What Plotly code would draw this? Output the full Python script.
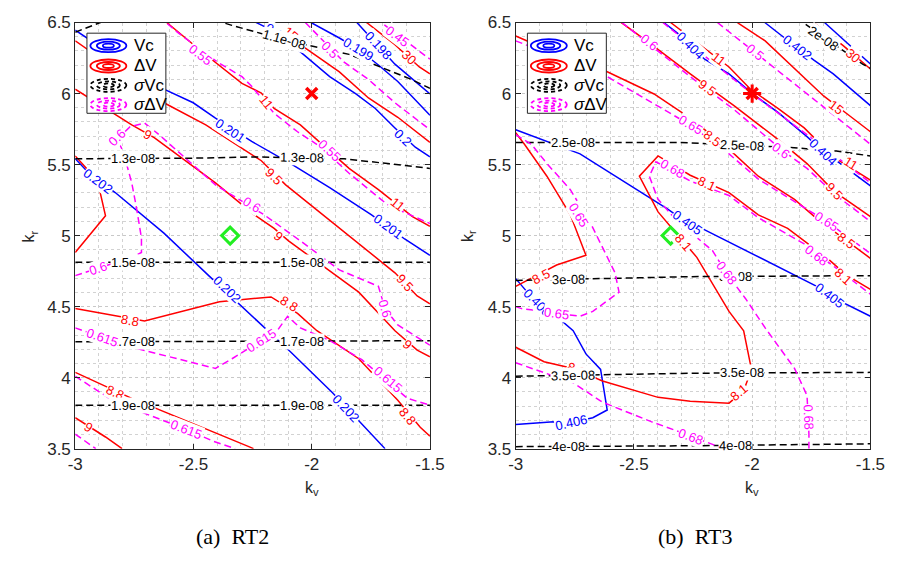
import math
import plotly.graph_objects as go

# ---------------------------------------------------------------- data
KV_RANGE = [-3.0, -1.5]
KR_RANGE = [3.5, 6.5]
X_TICKS = [-3, -2.5, -2, -1.5]
X_TICKTEXT = ["-3", "-2.5", "-2", "-1.5"]
Y_TICKS = [3.5, 4, 4.5, 5, 5.5, 6, 6.5]
Y_TICKTEXT = ["3.5", "4", "4.5", "5", "5.5", "6", "6.5"]

OPT_POINT = (-2.345, 5.0)     # green diamond
REF_POINT = (-2.0, 6.0)       # red cross

# contour polylines: (level, k_v values, k_r values)
RT2_VC = [
    ("0.198", [-1.809, -1.718, -1.648, -1.5], [6.5, 6.337, 6.207, 5.997]),
    ("0.199", [-2.003, -1.883, -1.801, -1.718, -1.636, -1.5], [6.5, 6.391, 6.31, 6.201, 6.085, 5.847]),
    ("0.2", [-2.26, -2.225, -2.184, -2.069, -1.924, -1.813, -1.731, -1.648, -1.562, -1.5],
     [6.52, 6.493, 6.459, 6.323, 6.119, 5.997, 5.895, 5.758, 5.622, 5.554]),
    ("0.201", [-3, -2.625, -2.501, -2.407, -2.254, -2.089, -1.924, -1.747, -1.607, -1.5],
     [6.446, 6.031, 5.935, 5.827, 5.663, 5.507, 5.337, 5.146, 4.976, 4.861]),
    ("0.202", [-3, -2.942, -2.831, -2.625, -2.431, -2.295, -2.089, -1.912, -1.772, -1.69],
     [5.541, 5.439, 5.303, 5.017, 4.711, 4.5, 4.18, 3.894, 3.65, 3.5]),
]
RT2_VC_LABELS = [("0.2", -2.159, 6.439), ("0.2", -1.615, 5.69), ("0.199", -1.801, 6.31),
                 ("0.198", -1.718, 6.337), ("0.201", -2.345, 5.74), ("0.201", -1.677, 5.065),
                 ("0.202", -2.901, 5.384), ("0.202", -2.357, 4.622), ("0.202", -1.854, 3.786)]

RT2_DV = [
    ("30", [-1.79, -1.768, -1.648, -1.545, -1.5], [6.52, 6.5, 6.344, 6.187, 6.139]),
    ("15", [-2.18, -2.163, -2.048, -1.883, -1.76, -1.636, -1.5], [6.52, 6.5, 6.344, 6.153, 5.969, 5.833, 5.656]),
    ("11", [-2.613, -2.46, -2.295, -2.213, -2.159, -2.048, -1.924, -1.842, -1.718, -1.574, -1.5],
     [6.5, 6.289, 6.071, 6.003, 5.895, 5.779, 5.595, 5.473, 5.323, 5.133, 5.065]),
    ("9.5", [-3, -2.625, -2.448, -2.213, -2.11, -1.953, -1.801, -1.648, -1.554, -1.5],
     [6.371, 5.935, 5.779, 5.527, 5.357, 5.146, 4.942, 4.738, 4.575, 4.52]),
    ("9", [-3, -2.761, -2.666, -2.407, -2.242, -2.159, -2.098, -1.801, -1.648, -1.554, -1.5],
     [6.031, 5.779, 5.69, 5.371, 5.146, 5.051, 4.963, 4.602, 4.33, 4.194, 4.146]),
    ("9", [-3, -2.934, -2.901, -2.872, -3], [5.561, 5.439, 5.35, 5.139, 4.881]),
    ("8.8", [-3, -2.707, -2.39, -2.172, -2.06, -1.978, -1.801, -1.636, -1.541, -1.5],
     [4.486, 4.398, 4.534, 4.568, 4.452, 4.33, 4.133, 3.84, 3.65, 3.588]),
    ("8.8", [-3, -2.761, -2.266, -2.246], [4.037, 3.854, 3.514, 3.5]),
    ("9", [-3, -2.872, -2.802], [3.718, 3.582, 3.5]),
]
RT2_DV_LABELS = [("15", -2.089, 6.425), ("30", -1.587, 6.255), ("11", -2.192, 5.935),
                 ("11", -1.636, 5.221), ("9.5", -2.159, 5.418), ("9.5", -1.607, 4.67),
                 ("9", -2.695, 5.711), ("9", -2.139, 4.997), ("9", -1.595, 4.235),
                 ("8.8", -2.769, 4.405), ("8.8", -2.098, 4.52), ("8.8", -1.595, 3.724),
                 ("8.8", -2.831, 3.895), ("9", -2.942, 3.65)]

RT2_SVC = [
    ("1.1e-08", [-3, -2.83, -2.46, -2.337, -2.118, -1.842, -1.587, -1.5],
     [6.432, 6.541, 6.541, 6.48, 6.378, 6.276, 6.105, 6.037]),
    ("1.3e-08", [-3, -2.5, -2.242, -1.863, -1.566, -1.5], [5.541, 5.545, 5.554, 5.541, 5.486, 5.473]),
    ("1.5e-08", [-3, -2.25, -1.5], [4.813, 4.813, 4.813]),
    ("1.7e-08", [-3, -2.25, -1.5], [4.252, 4.255, 4.26]),
    ("1.9e-08", [-3, -2.25, -1.5], [3.806, 3.806, 3.806]),
]
RT2_SVC_LABELS = [("1.1e-08", -2.118, 6.378), ("1.3e-08", -2.757, 5.544), ("1.3e-08", -2.04, 5.553),
                  ("1.5e-08", -2.757, 4.813), ("1.5e-08", -2.04, 4.813), ("1.7e-08", -2.757, 4.253),
                  ("1.7e-08", -2.04, 4.256), ("1.9e-08", -2.757, 3.806), ("1.9e-08", -2.04, 3.806)]

RT2_SDV = [
    ("0.45", [-1.73, -1.706, -1.574, -1.5], [6.53, 6.5, 6.337, 6.242]),
    ("0.5", [-2.027, -1.863, -1.76, -1.648, -1.5], [6.5, 6.221, 6.099, 5.935, 5.745]),
    ("0.55", [-2.646, -2.563, -2.398, -2.295, -2.254, -2.159, -2.06, -1.966, -1.842, -1.677, -1.5],
     [6.541, 6.425, 6.221, 6.119, 6.051, 5.861, 5.731, 5.629, 5.439, 5.214, 5.085]),
    ("0.6", [-3, -2.901, -2.761, -2.72, -2.72, -2.74, -2.761, -2.798, -2.823, -2.769, -2.707, -2.646,
             -2.407, -2.201, -2.048, -1.883, -1.718, -1.69, -1.636, -1.5],
     [4.718, 4.772, 4.847, 4.881, 4.983, 5.187, 5.371, 5.595, 5.677, 5.765, 5.793, 5.711,
      5.357, 5.146, 4.963, 4.758, 4.643, 4.486, 4.371, 4.228]),
    ("0.615", [-3, -2.761, -2.407, -2.337, -2.213, -2.143, -2.102, -2.048, -1.924, -1.788, -1.595, -1.5],
     [4.35, 4.214, 4.065, 4.133, 4.262, 4.337, 4.432, 4.35, 4.262, 4.126, 3.854, 3.806]),
    ("0.615", [-3, -2.831, -2.53, -2.419, -2.324], [4.01, 3.827, 3.636, 3.554, 3.5]),
    ("0.62", [-3, -2.913], [3.602, 3.5]),
]
RT2_SDV_LABELS = [("0.45", -1.636, 6.405), ("0.5", -1.924, 6.31), ("0.55", -2.472, 6.276),
                  ("0.55", -1.924, 5.6), ("0.6", -2.905, 4.77), ("0.6", -2.823, 5.69),
                  ("0.6", -2.254, 5.221), ("0.6", -1.69, 4.486), ("0.615", -2.885, 4.282),
                  ("0.615", -2.213, 4.262), ("0.615", -1.677, 3.99), ("0.615", -2.53, 3.636)]

RT3_VC = [
    ("0.4", [-1.694, -1.5], [6.5, 6.208]),
    ("0.402", [-1.96, -1.941, -1.879, -1.809, -1.739, -1.657, -1.5], [6.52, 6.493, 6.412, 6.323, 6.235, 6.139, 5.915]),
    ("0.404", [-2.374, -2.316, -2.262, -2.201, -2.098, -1.986, -1.891, -1.768, -1.698, -1.644, -1.5],
     [6.5, 6.425, 6.337, 6.242, 6.139, 5.983, 5.867, 5.697, 5.588, 5.527, 5.35]),
    ("0.405", [-3, -2.728, -2.357, -2.275, -2.213, -1.727, -1.673, -1.591, -1.5],
     [5.745, 5.575, 5.187, 5.09, 5.051, 4.643, 4.575, 4.507, 4.432]),
    ("0.406", [-3, -2.951, -2.909, -2.852, -2.757, -2.703, -2.641, -2.625, -2.613, -2.674, -2.765, -2.839, -3],
     [4.697, 4.602, 4.53, 4.466, 4.33, 4.167, 4.058, 3.894, 3.772, 3.718, 3.684, 3.69, 3.67]),
]
RT3_VC_LABELS = [("0.402", -1.809, 6.323), ("0.404", -2.262, 6.337), ("0.404", -1.698, 5.588),
                 ("0.405", -2.275, 5.09), ("0.405", -1.673, 4.575), ("0.406", -2.909, 4.53),
                 ("0.406", -2.765, 3.684)]

RT3_DV = [
    ("30", [-1.76, -1.735, -1.615, -1.533, -1.5], [6.52, 6.493, 6.337, 6.221, 6.173]),
    ("15", [-2.07, -2.056, -1.945, -1.838, -1.698, -1.591, -1.5], [6.51, 6.493, 6.371, 6.201, 5.983, 5.847, 5.731]),
    ("11", [-2.345, -2.221, -2.098, -2.007, -1.891, -1.78, -1.657, -1.5],
     [6.5, 6.344, 6.187, 6.031, 5.895, 5.758, 5.554, 5.391]),
    ("9.5", [-2.559, -2.435, -2.262, -2.077, -1.891, -1.768, -1.652, -1.5],
     [6.507, 6.357, 6.139, 5.915, 5.677, 5.507, 5.31, 5.133]),
    ("8.5", [-3, -2.839, -2.613, -2.415, -2.262, -2.098, -1.974, -1.821, -1.727, -1.603, -1.5],
     [6.405, 6.289, 6.153, 5.997, 5.827, 5.609, 5.418, 5.255, 5.119, 4.963, 4.84]),
    ("8.5", [-3, -2.963, -2.868, -2.769, -2.703, -2.827, -3], [5.724, 5.643, 5.418, 5.146, 4.861, 4.793, 4.643]),
    ("8.1", [-3, -2.88, -2.757, -2.633, -2.398, -2.262, -2.098, -2.036, -2.003, -2.015, -2.036, -2.098,
             -2.234, -2.304, -2.398, -2.477, -2.398, -2.262, -2.098, -1.974, -1.85, -1.78, -1.673, -1.603, -1.5],
     [4.214, 4.112, 4.065, 3.976, 3.861, 3.833, 3.82, 3.908, 4.058, 4.167, 4.33, 4.466,
      4.847, 4.983, 5.167, 5.418, 5.561, 5.425, 5.303, 5.146, 5.051, 4.963, 4.827, 4.724, 4.622]),
]
RT3_DV_LABELS = [("30", -1.574, 6.269), ("15", -1.644, 5.901), ("11", -2.139, 6.242),
                 ("11", -1.582, 5.507), ("9.5", -2.192, 6.04), ("9.5", -1.652, 5.31),
                 ("8.5", -2.168, 5.68), ("8.5", -1.603, 4.963), ("8.5", -2.893, 4.711),
                 ("8.1", -2.745, 4.058), ("8.1", -2.056, 3.895), ("8.1", -2.291, 4.949),
                 ("8.1", -2.192, 5.37), ("8.1", -1.615, 4.711)]

RT3_SVC = [
    ("2e-08", [-1.85, -1.78, -1.632, -1.533, -1.5], [6.575, 6.493, 6.323, 6.207, 6.18]),
    ("2.5e-08", [-3, -2.304, -1.85, -1.644, -1.5], [5.656, 5.656, 5.622, 5.595, 5.561]),
    ("3e-08", [-3, -2.262, -1.5], [4.684, 4.711, 4.718]),
    ("3.5e-08", [-3, -2.262, -1.5], [4.01, 4.031, 4.037]),
    ("4e-08", [-3, -2.262, -1.5], [3.514, 3.52, 3.534]),
]
RT3_SVC_LABELS = [("2e-08", -1.698, 6.391), ("2.5e-08", -2.757, 5.656), ("2.5e-08", -2.044, 5.635),
                  ("3e-08", -2.777, 4.69), ("3e-08", -2.069, 4.713), ("3.5e-08", -2.757, 4.015),
                  ("3.5e-08", -2.044, 4.033), ("4e-08", -2.777, 3.516), ("4e-08", -2.069, 3.522)]

RT3_SDV = [
    ("0.5", [-2.147, -1.912, -1.644, -1.5], [6.5, 6.187, 5.833, 5.643]),
    ("0.55", [-2.378, -2.262, -2.015, -1.714, -1.5], [6.5, 6.344, 6.017, 5.643, 5.371]),
    ("0.6", [-2.551, -2.427, -2.262, -2.077, -1.879, -1.768, -1.644, -1.5],
     [6.5, 6.337, 6.119, 5.888, 5.609, 5.473, 5.282, 5.099]),
    ("0.65", [-3, -2.613, -2.262, -2.098, -1.974, -1.685, -1.5], [6.371, 6.119, 5.779, 5.575, 5.398, 5.099, 4.874]),
    ("0.65", [-3, -2.934, -2.868, -2.769, -2.687, -2.633, -2.58, -2.563, -2.674, -2.728, -2.975, -3],
     [5.711, 5.643, 5.507, 5.323, 5.099, 4.915, 4.738, 4.602, 4.466, 4.432, 4.486, 4.5]),
    ("0.68", [-1.76, -1.76, -1.768, -1.821, -1.945, -2.027, -2.11, -2.168, -2.316, -2.398, -2.435, -2.407,
              -2.262, -2.098, -1.974, -1.78, -1.673, -1.5],
     [3.5, 3.602, 3.874, 4.065, 4.35, 4.554, 4.738, 4.895, 5.099, 5.255, 5.418, 5.52,
      5.384, 5.282, 5.126, 4.942, 4.806, 4.588]),
    ("0.68", [-3, -2.757, -2.633, -2.427, -2.304, -2.139, -2.098], [4.105, 3.963, 3.827, 3.69, 3.616, 3.514, 3.486]),
]
RT3_SDV_LABELS = [("0.5", -1.986, 6.289), ("0.6", -2.435, 6.357), ("0.6", -1.879, 5.6),
                  ("0.65", -2.262, 5.779), ("0.65", -1.685, 5.099), ("0.65", -2.736, 5.146),
                  ("0.65", -2.827, 4.452), ("0.68", -1.763, 3.724), ("0.68", -2.11, 4.738),
                  ("0.68", -2.337, 5.473), ("0.68", -1.727, 4.861), ("0.68", -2.262, 3.582)]

LEGEND_NAMES = ["Vc", "ΔV", "<i>σ</i>Vc", "<i>σ</i>ΔV"]
CAPTIONS = ["(a)  RT2", "(b)  RT3"]

# ---------------------------------------------------------------- layout geometry
W, H = 901, 563
X_DOMAINS = [[69 / W, 433 / W], [521 / W, 885 / W]]
Y_DOMAIN = [1 - 455 / H, 1 - 14 / H]
PX_PER_KV = (X_DOMAINS[0][1] - X_DOMAINS[0][0]) * W / (KV_RANGE[1] - KV_RANGE[0])
PX_PER_KR = (Y_DOMAIN[1] - Y_DOMAIN[0]) * H / (KR_RANGE[1] - KR_RANGE[0])

STYLES = {
    "vc": dict(color="#0000ff", width=1.5, dash="solid"),
    "dv": dict(color="#ff0000", width=1.5, dash="solid"),
    "svc": dict(color="#000000", width=1.5, dash="7px,4px"),
    "sdv": dict(color="#ff00ff", width=1.5, dash="7px,4px"),
}
TEXT = "#262626"
FONT = "Liberation Sans, Arial, sans-serif"


def label_angle(lines, level, x, y):
    """Rotation (deg, clockwise) of the contour segment nearest to a label."""
    px, py = x * PX_PER_KV, -y * PX_PER_KR
    best = None
    for lev, xs, ys in lines:
        if lev != level:
            continue
        for i in range(len(xs) - 1):
            ax, ay = xs[i] * PX_PER_KV, -ys[i] * PX_PER_KR
            bx, by = xs[i + 1] * PX_PER_KV, -ys[i + 1] * PX_PER_KR
            dx, dy = bx - ax, by - ay
            L2 = dx * dx + dy * dy
            t = 0 if L2 == 0 else max(0, min(1, ((px - ax) * dx + (py - ay) * dy) / L2))
            d = math.hypot(ax + t * dx - px, ay + t * dy - py)
            if best is None or d < best[0]:
                best = (d, dx, dy)
    ang = math.degrees(math.atan2(best[2], best[1]))
    if ang >= 90:
        ang -= 180
    if ang < -90:
        ang += 180
    return ang


fig = go.Figure()
annotations = []
shapes = []

panels = [
    ("x", "y", [(RT2_VC, RT2_VC_LABELS, "vc"), (RT2_DV, RT2_DV_LABELS, "dv"),
                (RT2_SVC, RT2_SVC_LABELS, "svc"), (RT2_SDV, RT2_SDV_LABELS, "sdv")], "x"),
    ("x2", "y2", [(RT3_VC, RT3_VC_LABELS, "vc"), (RT3_DV, RT3_DV_LABELS, "dv"),
                  (RT3_SVC, RT3_SVC_LABELS, "svc"), (RT3_SDV, RT3_SDV_LABELS, "sdv")], "x-plus"),
]

for xa, ya, groups, ref_symbol in panels:
    for lines, labels, key in groups:
        st = STYLES[key]
        for lev, xs, ys in lines:
            fig.add_trace(go.Scatter(
                x=xs, y=ys, mode="lines", xaxis=xa, yaxis=ya, showlegend=False,
                hoverinfo="skip", line=dict(color=st["color"], width=st["width"], dash=st["dash"])))
        for lev, lx, ly in labels:
            annotations.append(dict(
                x=lx, y=ly, xref=xa, yref=ya, text=lev, showarrow=False,
                xanchor="center", yanchor="middle",
                textangle=label_angle(lines, lev, lx, ly),
                font=dict(family=FONT, size=13, color=st["color"]),
                bgcolor="white", borderpad=0))
    # reference and optimum points
    fig.add_trace(go.Scatter(
        x=[REF_POINT[0]], y=[REF_POINT[1]], mode="markers", xaxis=xa, yaxis=ya, showlegend=False,
        hoverinfo="skip", marker=dict(symbol="x-thin-open", size=11, color="#ff0000",
                                      line=dict(width=3.5, color="#ff0000"))))
    if ref_symbol == "x-plus":
        fig.add_trace(go.Scatter(
            x=[REF_POINT[0]], y=[REF_POINT[1]], mode="markers", xaxis=xa, yaxis=ya, showlegend=False,
            hoverinfo="skip", marker=dict(symbol="cross-thin-open", size=13, color="#ff0000",
                                          line=dict(width=3, color="#ff0000"))))
    fig.add_trace(go.Scatter(
        x=[OPT_POINT[0]], y=[OPT_POINT[1]], mode="markers", xaxis=xa, yaxis=ya, showlegend=False,
        hoverinfo="skip", marker=dict(symbol="diamond-open", size=13, color="#22ee22",
                                      line=dict(width=3, color="#22ee22"))))

    # legend box drawn inside each axes
    xr, yr = f"{xa} domain", f"{ya} domain"
    shapes.append(dict(type="rect", xref=xr, yref=yr, x0=0.033, x1=0.2555, y0=0.787, y1=0.975,
                       fillcolor="white", line=dict(color=TEXT, width=1), layer="above"))
    rows = [0.9456, 0.898, 0.8526, 0.8073]
    for (key, name, yc) in zip(["vc", "dv", "svc", "sdv"], LEGEND_NAMES, rows):
        st = STYLES[key]
        dash = "solid" if st["dash"] == "solid" else "4px,3px"
        for w, h in [(36, 13), (23, 8), (11, 4)]:
            shapes.append(dict(type="circle", xref=xr, yref=yr, xsizemode="pixel", ysizemode="pixel",
                               xanchor=0.0934, yanchor=yc, x0=-w / 2, x1=w / 2, y0=-h / 2, y1=h / 2,
                               line=dict(color=st["color"], width=1.8, dash=dash), layer="above"))
        annotations.append(dict(x=0.159, y=yc, xref=xr, yref=yr, text=name, showarrow=False,
                                xanchor="left", yanchor="middle",
                                font=dict(family=FONT, size=17, color="#000000")))

# axis titles and captions
for cx, cap in zip([230, 705], CAPTIONS):
    annotations.append(dict(x=cx / W, y=1 - 546 / H, xref="paper", yref="paper", text=cap,
                            xanchor="center", yanchor="middle", showarrow=False,
                            font=dict(family="Liberation Serif, serif", size=22, color="#000000")))
for kvx, krx in [(312, 22), (764, 472)]:
    annotations.append(dict(x=kvx / W, y=1 - 496 / H, xref="paper", yref="paper", text="k<sub>v</sub>",
                            xanchor="center", yanchor="middle",
                            showarrow=False, font=dict(family=FONT, size=16, color=TEXT)))
    annotations.append(dict(x=krx / W, y=1 - 235 / H, xref="paper", yref="paper", text="k<sub>r</sub>",
                            xanchor="center", yanchor="middle",
                            textangle=-90, showarrow=False, font=dict(family=FONT, size=16, color=TEXT)))

axis_common = dict(
    showline=True, linecolor=TEXT, linewidth=1, mirror="ticks", ticks="inside", ticklen=5,
    tickcolor=TEXT, tickfont=dict(family=FONT, size=17, color=TEXT), zeroline=False,
    showgrid=True, gridcolor="#c8c8c8", griddash="dot", gridwidth=1,
    minor=dict(dtick=0.1, showgrid=True, gridcolor="#d2d2d2", griddash="dot", gridwidth=1, ticks=""),
)

fig.update_layout(
    width=W, height=H, autosize=False, margin=dict(l=0, r=0, t=0, b=0),
    paper_bgcolor="white", plot_bgcolor="white", showlegend=False,
    xaxis=dict(domain=X_DOMAINS[0], range=KV_RANGE, tickvals=X_TICKS, ticktext=X_TICKTEXT,
               anchor="y", **axis_common),
    yaxis=dict(domain=Y_DOMAIN, range=KR_RANGE, tickvals=Y_TICKS, ticktext=Y_TICKTEXT,
               anchor="x", **axis_common),
    xaxis2=dict(domain=X_DOMAINS[1], range=KV_RANGE, tickvals=X_TICKS, ticktext=X_TICKTEXT,
                anchor="y2", **axis_common),
    yaxis2=dict(domain=Y_DOMAIN, range=KR_RANGE, tickvals=Y_TICKS, ticktext=Y_TICKTEXT,
                anchor="x2", **axis_common),
    annotations=annotations, shapes=shapes,
)

fig.write_html("out.html")
